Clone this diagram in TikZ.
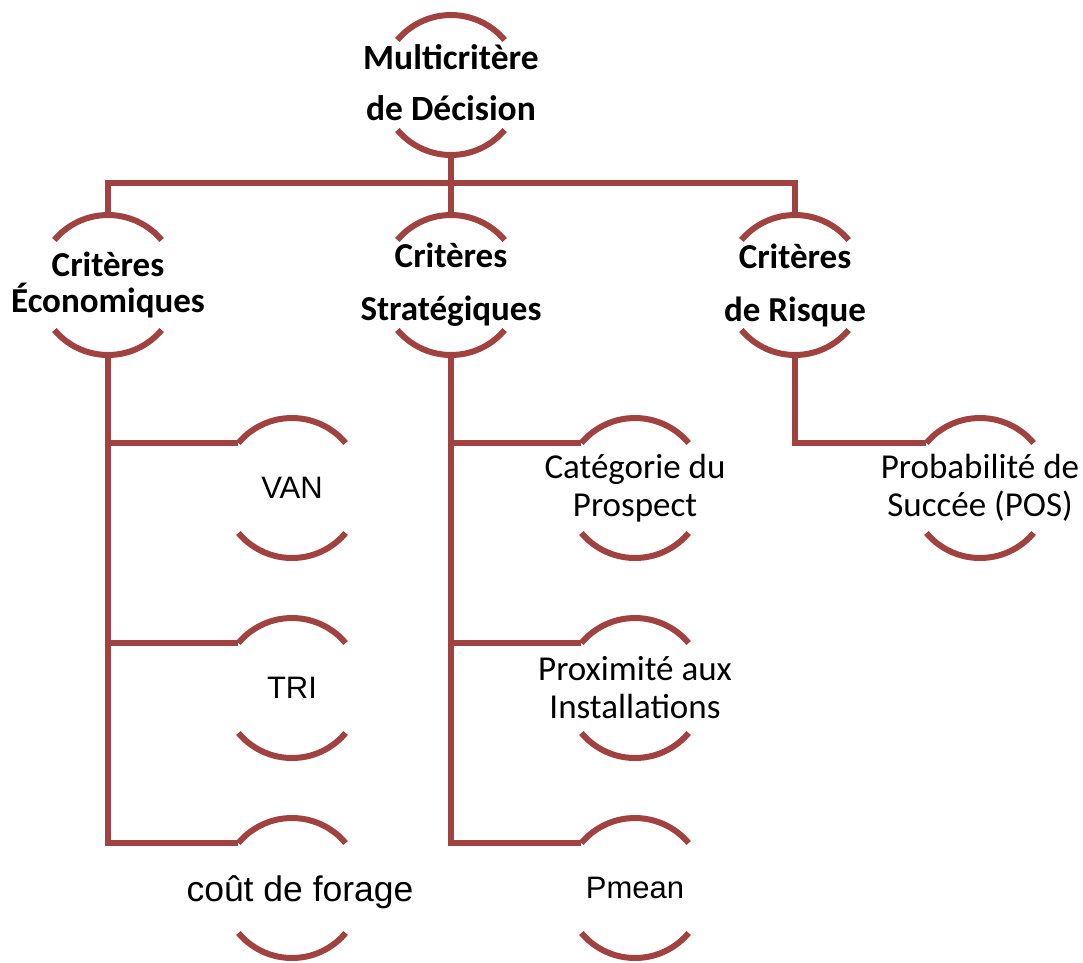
\documentclass[tikz,border=0pt]{standalone}
\usepackage{fontspec}
\setmainfont{Carlito}
\newfontfamily\arialf{Liberation Sans}
\definecolor{arcred}{RGB}{160,66,64}
\begin{document}
\begin{tikzpicture}[x=1pt,y=1pt,
  ring/.style={circle,draw=none,minimum size=140pt,inner sep=0pt,outer sep=0pt},
  link/.style={draw=arcred,line width=6pt},
  arcline/.style={draw=arcred,line width=6pt,line cap=butt},
  head/.style={font=\bfseries\fontsize{35.5}{51}\selectfont,align=center,text=black},
  leafc/.style={font=\fontsize{35}{38}\selectfont,align=center,text=black},
  leafa/.style={font=\arialf\fontsize{31}{34}\selectfont,align=center,text=black}]
\useasboundingbox (0,0) rectangle (1083,-962);

% circles (invisible carriers of the arcs)
\node[ring] (top) at (451,-85) {};
\node[ring] (eco) at (108,-285) {};
\node[ring] (str) at (451,-285) {};
\node[ring] (risk) at (795,-285) {};
\node[ring] (van) at (292,-488) {};
\node[ring] (tri) at (292,-688) {};
\node[ring] (cout) at (292,-888) {};
\node[ring] (cat) at (635,-488) {};
\node[ring] (prox) at (635,-688) {};
\node[ring] (pmean) at (635,-888) {};
\node[ring] (pos) at (980,-488) {};

% the two arcs of every circle
\foreach \n in {top,eco,str,risk,van,tri,cout,cat,prox,pmean,pos}{
  \draw[arcline] (\n.40) arc[start angle=40,end angle=140,radius=70];
  \draw[arcline] (\n.220) arc[start angle=220,end angle=320,radius=70];
}

% connectors
\draw[link] (top.south) -- ++(0,-28) coordinate (bar) -| (eco.north);
\draw[link] (bar) -| (str.north);
\draw[link] (bar) -| (risk.north);
\draw[link] (eco.south) |- (van.140);
\draw[link] (eco.south) |- (tri.140);
\draw[link] (eco.south) |- (cout.140);
\draw[link] (str.south) |- (cat.140);
\draw[link] (str.south) |- (prox.140);
\draw[link] (str.south) |- (pmean.140);
\draw[link] (risk.south) |- (pos.140);

% labels
\node[head] (top-t) at ([yshift=2]top) {Multicritère\\de Décision};
\node[head,font=\bfseries\fontsize{35}{36}\selectfont] (eco-t) at (eco) {Critères\\Économiques};
\node[head,font=\bfseries\fontsize{35}{53}\selectfont] (str-t) at (str) {Critères\\Stratégiques};
\node[head,font=\bfseries\fontsize{35}{53}\selectfont] (risk-t) at (risk) {Critères\\de Risque};
\node[leafa] (van-t) at (van) {VAN};
\node[leafa] (tri-t) at (tri) {TRI};
\node[leafa,font=\arialf\fontsize{35.5}{38}\selectfont] (cout-t) at ([shift={(8,-4)}]cout) {coût de forage};
\node[leafc] (cat-t) at (cat) {Catégorie du\\Prospect};
\node[leafc] (prox-t) at (prox) {Proximité aux\\Installations};
\node[leafa] (pmean-t) at (pmean) {Pmean};
\node[leafc] (pos-t) at (pos) {Probabilité de\\Succée (POS)};
\end{tikzpicture}
\end{document}
